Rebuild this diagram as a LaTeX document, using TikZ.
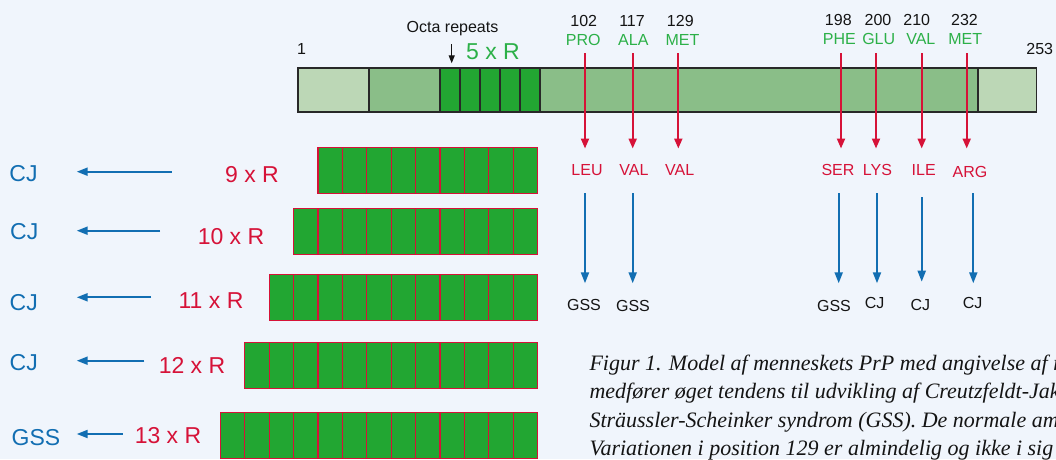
\documentclass[tikz,border=0pt]{standalone}
\usepackage{fontspec}
\setmainfont{Liberation Sans}
\newfontfamily\capfont{Liberation Serif}
\usetikzlibrary{arrows.meta}
\definecolor{bg}{RGB}{240,245,252}
\definecolor{lightg}{RGB}{188,215,182}
\definecolor{midg}{RGB}{138,190,136}
\definecolor{darkg}{RGB}{34,166,50}
\definecolor{crim}{RGB}{214,18,56}
\definecolor{labg}{RGB}{44,176,72}
\definecolor{blu}{RGB}{18,110,178}
\definecolor{edge}{RGB}{40,40,40}
\definecolor{ink}{RGB}{20,20,20}
\begin{document}
\begin{tikzpicture}[x=1pt,y=-1pt,
  lbl/.style={inner sep=0pt, anchor=base, text=ink, font=\fontsize{16}{18}\selectfont},
  big/.style={inner sep=0pt, anchor=base, font=\fontsize{23}{26}\selectfont},
  captxt/.style={inner sep=0pt, anchor=base west, text=ink, font=\capfont\itshape\fontsize{22}{26}\selectfont},
  redarr/.style={draw=crim, line width=2pt, -{Triangle[width=8pt,length=10pt]}},
  bluarr/.style={draw=blu, line width=2pt, -{Triangle[width=8pt,length=11pt]}},
  blkarr/.style={draw=ink, line width=1.2pt, -{Triangle[width=6pt,length=8pt]}},
  seg/.style={draw=edge, line width=1.2pt},
  rbox/.style={draw=crim, fill=darkg, line width=1.2pt},
]
\fill[bg] (0,0) rectangle (1056,459);
\useasboundingbox (0,0) rectangle (1056,459);
\clip (0,0) rectangle (1056,459);

% main bar
\draw[seg, fill=lightg] (298,68) rectangle (369,112);
\draw[seg, fill=midg] (369,68) rectangle (440,112);
\foreach \i in {0,...,4}
  \draw[seg, fill=darkg] ({440+20*\i},68) rectangle ({460+20*\i},112);
\draw[seg, fill=midg] (540,68) rectangle (978,112);
\draw[seg, fill=lightg] (978,68) rectangle (1036.5,112);

\node[lbl] (one) at (301.5,54) {1};
\node[lbl] (end) at (1039.7,54) {253};
\node[lbl] (octa) at (452.5,32.7) {Octa repeats};
\coordinate (octaA) at (451.7,44);
\coordinate (octaB) at (451.7,63.3);
\draw[blkarr] (octaA) -- (octaB);
\node[big, text=labg] (five) at (493,59.3) {5 x R};

% mutations
\foreach \k/\x/\nx/\ny/\n/\ax/\ay/\a/\mx/\my/\m in {
  a/585/583.7/26.6/102/583.3/45/PRO/587/175.7/LEU,
  b/632.7/632/26.6/117/633.3/45/ALA/634/175.7/VAL,
  c/678.3/680.3/26.6/129/682.5/45/MET/679.7/175.7/VAL,
  d/841/838.3/25.2/198/839.3/44.3/PHE/838/175.7/SER,
  e/876/878/25.2/200/878.7/44.3/GLU/877.5/175.7/LYS,
  f/921.7/916.7/25.2/210/920.8/44.3/VAL/923.7/175.7/ILE,
  g/966.7/964.5/25.2/232/965.2/44.3/MET/970/177.3/ARG} {
  \node[lbl] (num\k) at (\nx,\ny) {\n};
  \node[lbl, text=labg] (aa\k) at (\ax,\ay) {\a};
  \node[lbl, text=crim] (mut\k) at (\mx,\my) {\m};
  \coordinate (top\k) at (\x,53);
  \coordinate (tip\k) at (\x,148.5);
  \draw[redarr] (top\k) -- (tip\k);
}

% outcomes
\foreach \k/\x/\ya/\yb/\ox/\oy/\o in {
  a/585/193.3/283.3/584/310/GSS,
  b/632.7/193.3/283.3/633/311.5/GSS,
  d/838.7/193.3/283.3/834/311/GSS,
  e/877/193.3/283.3/874.7/308.3/CJ,
  f/921.7/197.3/281.7/920.3/310/CJ,
  g/973.3/193.3/283.3/972.7/308.3/CJ} {
  \coordinate (bs\k) at (\x,\ya);
  \coordinate (bt\k) at (\x,\yb);
  \node[lbl] (out\k) at (\ox,\oy) {\o};
  \draw[bluarr] (bs\k) -- (bt\k);
}

% repeat rows
\foreach \r/\n/\ty/\lx/\ly/\cx/\cy/\c/\ax/\ay in {
  1/9/147.3/252/182.7/23.5/181/CJ/171.7/171.7,
  2/10/208.3/231/244/24.2/239.3/CJ/160/230.7,
  3/11/274.3/211/308.3/23.7/310.7/CJ/151/297.3,
  4/12/342.7/192/373.3/23.7/370/CJ/144.3/360.7,
  5/13/412.7/168/443.3/36/445/GSS/122.7/434} {
  \foreach \i in {1,...,\n}
    \draw[rbox] ({537.5-24.4*\i},\ty) rectangle ({537.5-24.4*(\i-1)},{\ty+46});
  \node[big, text=crim] (rep\r) at (\lx,\ly) {\n\ x R};
  \node[big, text=blu] (dis\r) at (\cx,\cy) {\c};
  \coordinate (as\r) at (\ax,\ay);
  \coordinate (at\r) at (76.7,\ay);
  \draw[bluarr] (as\r) -- (at\r);
}

% caption
\node[captxt] (cap1) at (589.3,370) {Figur 1. Model af menneskets PrP med angivelse af mutationer, som};
\node[captxt] (cap2) at (589.3,398.5) {medfører øget tendens til udvikling af Creutzfeldt-Jakob sygdom (CJ) eller};
\node[captxt] (cap3) at (589.3,427) {Sträussler-Scheinker syndrom (GSS). De normale aminosyrer er angivet};
\node[captxt] (cap4) at (589.3,455.5) {Variationen i position 129 er almindelig og ikke i sig selv};
\end{tikzpicture}
\end{document}
